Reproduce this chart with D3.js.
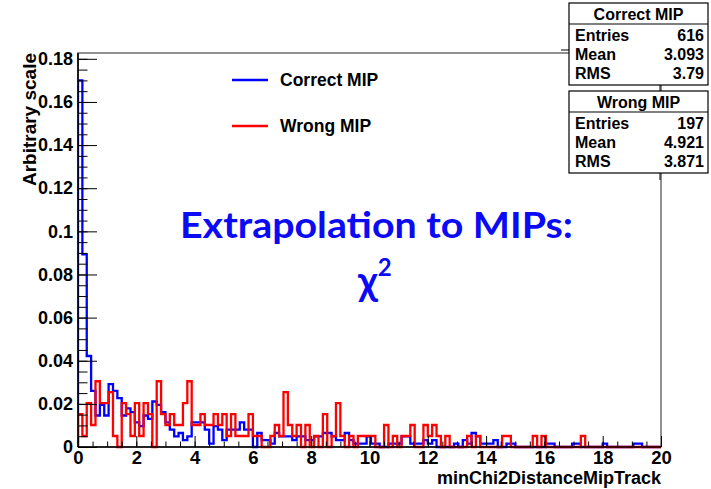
<!DOCTYPE html>
<html>
<head>
<meta charset="utf-8">
<title>minChi2DistanceMipTrack</title>
<script src="https://cdnjs.cloudflare.com/ajax/libs/d3/7.8.5/d3.min.js"></script>
<style>
  body { margin: 0; background: #fff; }
  svg { display: block; }
  text { font-family: "Liberation Sans", Arial, sans-serif; font-weight: bold; fill: #000; }
  .axis .domain { display: none; }
  .axis line { stroke: #000; stroke-width: 1; }
  .stat-box { fill: #fff; stroke: #000; stroke-width: 1.2; }
  .overlay { font-family: Lato, "Open Sans", sans-serif; fill: #0a0af5; }
</style>
</head>
<body>
<svg id="chart"></svg>
<script>

// histogram contents, bins of 0.15 starting at 0
var binWidth = 0.15;

var correctMip = [
  0.170, 0.0893, 0.0422, 0.0260, 0.0146, 0.0195, 0.0146, 0.0292, 0.0260, 0.0227,
  0.0146, 0.0179, 0.0162, 0.0114, 0.0097, 0.0146, 0.0130, 0.0211, 0.0195, 0.0162,
  0.0114, 0.0081, 0.0049, 0.0065, 0.0032, 0.0049, 0.0114, 0.0114, 0.0114, 0.0081,
  0.0016, 0.0097, 0.0081, 0.0032, 0.0081, 0.0081, 0.0081, 0.0114, 0.0081, 0.0081,
  0, 0.0065, 0.0032, 0.0032, 0.0016, 0.0065, 0.0049, 0.0049, 0.0049, 0.0032,
  0.0049, 0.0049, 0.0032, 0.0032, 0.0049, 0.0049, 0.0065, 0.0065, 0.0049, 0.0032,
  0.0032, 0.0065, 0.0032, 0.0016, 0.0016, 0.0016, 0.0049, 0.0016, 0.0016, 0,
  0, 0.0016, 0.0016, 0.0016, 0.0049, 0.0049, 0.0016, 0.0016, 0.0016, 0.0032,
  0.0016, 0.0032, 0, 0, 0, 0, 0.0016, 0, 0.0032, 0.0016,
  0.0065, 0.0049, 0.0016, 0.0016, 0.0016, 0.0032, 0, 0, 0.0016, 0.0016,
  0, 0, 0, 0, 0, 0, 0, 0.0016, 0.0016, 0,
  0, 0, 0, 0.0016, 0.0016, 0, 0, 0, 0, 0,
  0.0016, 0, 0, 0, 0, 0, 0, 0.0016, 0.0016, 0,
  0, 0, 0
];

var wrongMip = [
  0.0152, 0.0051, 0.0203, 0.0102, 0.0305, 0.0203, 0.0203, 0.0254, 0.0051, 0,
  0.0203, 0.0152, 0.0051, 0.0203, 0.0051, 0.0203, 0.0152, 0, 0.0305, 0.0152,
  0.0102, 0.0152, 0.0102, 0.0102, 0.0203, 0.0305, 0.0102, 0.0102, 0.0152, 0.0102,
  0.0102, 0.0152, 0.0102, 0.0152, 0.0051, 0.0152, 0.0051, 0.0051, 0.0051, 0.0152,
  0.0051, 0.0051, 0, 0, 0.0051, 0.0102, 0.0051, 0.0254, 0.0102, 0.0051,
  0.0102, 0, 0.0102, 0, 0.0051, 0, 0.0152, 0, 0.0051, 0.0203,
  0.0051, 0, 0.0051, 0, 0.0051, 0.0051, 0.0051, 0.0051, 0, 0,
  0.0102, 0, 0.0051, 0, 0.0051, 0.0051, 0.0102, 0, 0, 0.0102,
  0.0051, 0.0102, 0.0051, 0, 0.0051, 0, 0, 0, 0, 0.0051,
  0, 0.0051, 0, 0, 0, 0, 0, 0.0051, 0.0051, 0,
  0, 0, 0, 0, 0.0051, 0, 0.0051, 0, 0, 0,
  0, 0, 0, 0, 0, 0.0051, 0, 0, 0, 0,
  0, 0, 0, 0, 0, 0, 0, 0, 0, 0,
  0, 0, 0
];

var xTicks = [0, 2, 4, 6, 8, 10, 12, 14, 16, 18, 20];
var yTicks = [0, 0.02, 0.04, 0.06, 0.08, 0.1, 0.12, 0.14, 0.16, 0.18];

var seriesNames = ['Correct MIP', 'Wrong MIP'];
var seriesColours = ['#0000ff', '#ff0000'];

var statLabels = ['Entries', 'Mean', 'RMS'];
var correctStats = ['616', '3.093', '3.79'];
var wrongStats = ['197', '4.921', '3.871'];

var width = 711,
    height = 489,
    margin = {top: 53, right: 50, bottom: 42, left: 78};

var svg = d3.select('#chart')
  .attr('width', width)
  .attr('height', height);

svg.append('rect')
  .attr('width', width)
  .attr('height', height)
  .attr('fill', '#fff');

var x = d3.scaleLinear()
  .domain([0, 20])
  .range([margin.left, width - margin.right]);

var y = d3.scaleLinear()
  .domain([0, 0.1827])
  .range([height - margin.bottom, margin.top]);

svg.append('clipPath')
  .attr('id', 'plot-clip')
  .append('rect')
  .attr('x', x(0))
  .attr('y', y.range()[1] - 2)
  .attr('width', x(20) - x(0))
  .attr('height', y.range()[0] - y.range()[1] + 4);

// frame
svg.append('rect')
  .attr('x', x(0))
  .attr('y', y.range()[1])
  .attr('width', x(20) - x(0))
  .attr('height', y.range()[0] - y.range()[1])
  .attr('fill', 'none')
  .attr('stroke', '#222')
  .attr('stroke-width', 1);

// histograms (blue under red, like the ROOT canvas)
function steps(values) {
  var pts = [[0, 0]];
  values.forEach(function(v, i) { pts.push([i * binWidth, v]); });
  pts.push([values.length * binWidth, 0]);
  pts.push([20, 0]);
  return pts;
}

var line = d3.line()
  .x(function(d) { return x(d[0]); })
  .y(function(d) { return y(d[1]); })
  .curve(d3.curveStepAfter);

[correctMip, wrongMip].forEach(function(values, i) {
  svg.append('path')
    .attr('clip-path', 'url(#plot-clip)')
    .attr('d', line(steps(values)))
    .attr('fill', 'none')
    .attr('stroke', seriesColours[i])
    .attr('stroke-width', 2.3)
    .attr('stroke-linejoin', 'miter');
});

// axes: ticks drawn inside the frame
svg.append('g')
  .attr('class', 'axis')
  .attr('transform', 'translate(0,' + y(0) + ')')
  .call(d3.axisBottom(x).tickValues(d3.range(0, 20.01, 0.5)).tickSize(-5.5).tickFormat(''));

var xAxis = svg.append('g')
  .attr('class', 'axis')
  .attr('transform', 'translate(0,' + y(0) + ')')
  .call(d3.axisBottom(x).tickValues(xTicks).tickSize(-11).tickPadding(4).tickFormat(d3.format('d')));
xAxis.selectAll('text')
  .style('font-size', '18.5px')
  .attr('fill', '#000');

svg.append('g')
  .attr('class', 'axis')
  .attr('transform', 'translate(' + x(0) + ',0)')
  .call(d3.axisLeft(y).tickValues(d3.range(0, 0.1826, 0.005)).tickSize(-9.5).tickFormat(''));

var yAxis = svg.append('g')
  .attr('class', 'axis')
  .attr('transform', 'translate(' + x(0) + ',0)')
  .call(d3.axisLeft(y).tickValues(yTicks).tickSize(-19).tickPadding(5).tickFormat(d3.format('.2~f')));
yAxis.selectAll('text')
  .style('font-size', '18px')
  .attr('fill', '#000');

svg.append('line')
  .attr('x1', x(0)).attr('x2', x(0))
  .attr('y1', y.range()[1]).attr('y2', y(0))
  .attr('stroke', '#000').attr('stroke-width', 1.6);
svg.append('line')
  .attr('x1', x(0)).attr('x2', x(20))
  .attr('y1', y(0)).attr('y2', y(0))
  .attr('stroke', '#000').attr('stroke-width', 1.6);

// axis titles
svg.append('text')
  .attr('text-anchor', 'end')
  .attr('x', x(20))
  .attr('y', 484)
  .style('font-size', '18px')
  .text('minChi2DistanceMipTrack');

svg.append('text')
  .attr('text-anchor', 'end')
  .attr('transform', 'translate(36,' + y.range()[1] + ') rotate(-90)')
  .style('font-size', '19px')
  .text('Arbitrary scale');

// legend
var legend = svg.append('g')
  .selectAll('g')
  .data(seriesNames)
  .enter()
  .append('g')
  .attr('transform', function(d, i) { return 'translate(232,' + (80 + i * 46) + ')'; });

legend.append('line')
  .attr('x1', 0).attr('x2', 36)
  .attr('stroke', function(d, i) { return seriesColours[i]; })
  .attr('stroke-width', 2.3);

legend.append('text')
  .attr('x', 48)
  .attr('dy', '0.36em')
  .style('font-size', '17.5px')
  .text(function(d) { return d; });

// stat boxes
function statBox(top, title, values) {
  var g = svg.append('g').attr('transform', 'translate(569,' + top + ')');
  g.append('rect')
    .attr('class', 'stat-box')
    .attr('width', 139)
    .attr('height', 82);
  g.append('line')
    .attr('x1', 0).attr('x2', 139)
    .attr('y1', 21).attr('y2', 21)
    .attr('stroke', '#000').attr('stroke-width', 1.2);
  g.append('text')
    .attr('x', 69.5)
    .attr('y', 11)
    .attr('dy', '0.36em')
    .attr('text-anchor', 'middle')
    .style('font-size', '16px')
    .text(title);
  statLabels.forEach(function(label, i) {
    g.append('text')
      .attr('x', 6)
      .attr('y', 32 + i * 19.3)
      .attr('dy', '0.36em')
      .style('font-size', '16px')
      .text(label);
    g.append('text')
      .attr('x', 135)
      .attr('y', 32 + i * 19.3)
      .attr('dy', '0.36em')
      .attr('text-anchor', 'end')
      .style('font-size', '16px')
      .text(values[i]);
  });
  return g;
}

statBox(3, seriesNames[0], correctStats);
statBox(91, seriesNames[1], wrongStats);

svg.append('line').attr('x1', 561).attr('x2', 569).attr('y1', 50).attr('y2', 50)
  .attr('stroke', '#000').attr('stroke-width', 1);
svg.append('line').attr('x1', 660).attr('x2', 660).attr('y1', 85).attr('y2', 91)
  .attr('stroke', '#000').attr('stroke-width', 1);
svg.append('line').attr('x1', 660).attr('x2', 660).attr('y1', 173).attr('y2', 180)
  .attr('stroke', '#000').attr('stroke-width', 1);

// slide annotation
svg.append('text')
  .attr('class', 'overlay')
  .attr('x', 180)
  .attr('y', 238)
  .attr('textLength', 393)
  .attr('lengthAdjust', 'spacingAndGlyphs')
  .style('font-size', '37px')
  .text('Extrapolation to MIPs:');

var chi = svg.append('text')
  .attr('class', 'overlay')
  .attr('x', 358)
  .attr('y', 295)
  .style('font-size', '40px')
  .text('\u03c7');
chi.append('tspan')
  .attr('dy', -19)
  .style('font-size', '24px')
  .text('2');

</script>
</body>
</html>
